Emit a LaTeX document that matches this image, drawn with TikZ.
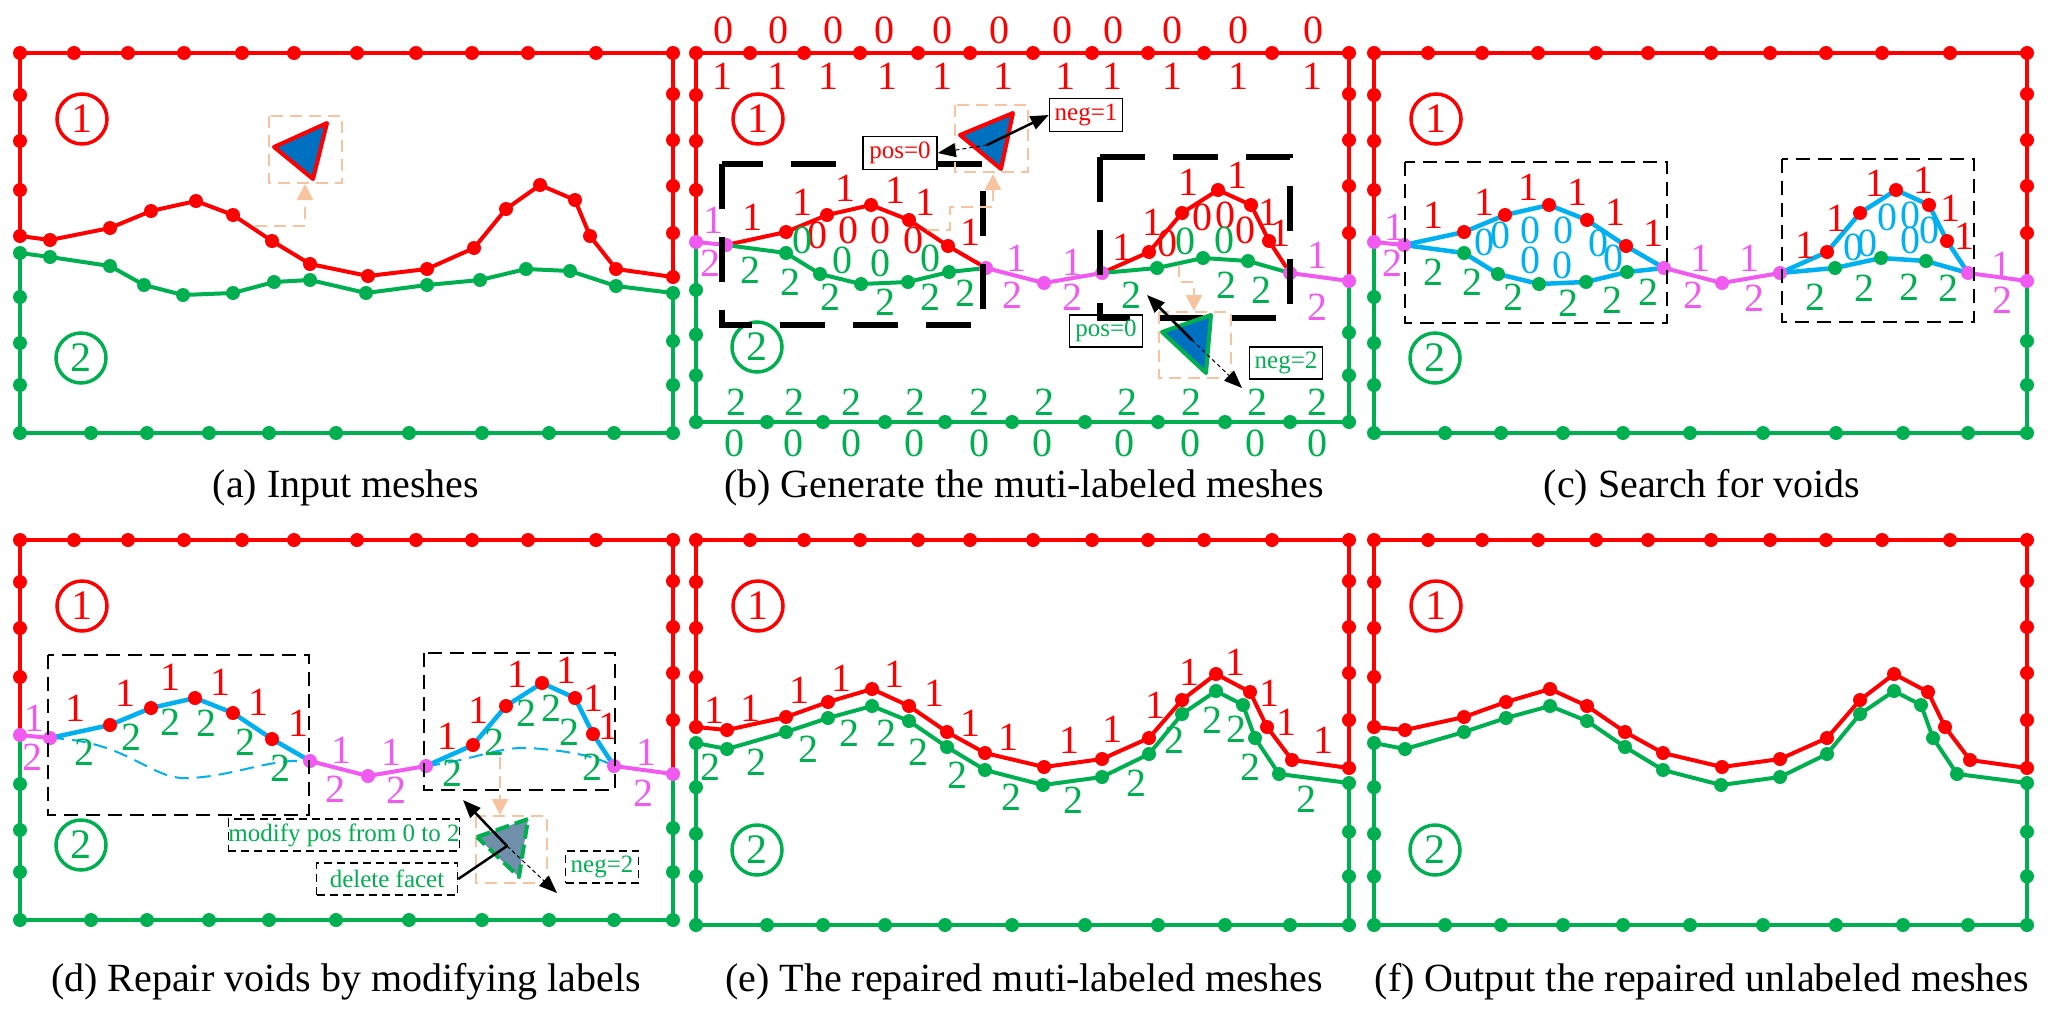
\documentclass[tikz,border=0pt]{standalone}
\usepackage{fontspec}
\setmainfont{Liberation Serif}
\usetikzlibrary{arrows.meta}
\definecolor{mred}{RGB}{255,0,0}
\definecolor{mgreen}{RGB}{0,176,80}
\definecolor{mmag}{RGB}{240,90,240}
\definecolor{mcyan}{RGB}{0,176,240}
\definecolor{morange}{RGB}{248,196,160}
\definecolor{tblue}{RGB}{0,112,192}
\definecolor{tgrey}{RGB}{111,143,170}
\tikzset{
 rl/.style={draw=mred,line width=4pt,line join=round},
 gl/.style={draw=mgreen,line width=4pt,line join=round},
 ml/.style={draw=mmag,line width=4pt,line join=round},
 cl/.style={draw=mcyan,line width=4.5pt,line join=round},
 lab/.style={inner sep=0pt,font=\rmfamily\fontsize{40}{40}\selectfont},
 capt/.style={inner sep=0pt,font=\rmfamily\fontsize{40}{44}\selectfont},
 circnum/.style={draw,circle,line width=3.5pt,minimum size=50pt,inner sep=0pt,font=\rmfamily\fontsize{42}{42}\selectfont},
 tbox/.style={draw,line width=1.5pt,inner sep=0pt,font=\rmfamily\fontsize{25}{25}\selectfont},
 dbox/.style={draw,dashed,dash pattern=on 8pt off 5pt,line width=1.5pt,inner sep=0pt,font=\rmfamily\fontsize{25}{25}\selectfont},
 obox/.style={draw=morange,line width=2.5pt,dash pattern=on 12pt off 7pt},
 otip/.style={draw=morange,line width=2.5pt,dash pattern=on 12pt off 7pt,-{Triangle[width=16pt,length=16pt,fill=morange]}},
 bigbox/.style={draw=black,line width=6pt,dash pattern=on 45pt off 28pt},
 thinbox/.style={draw=black,line width=2.5pt,dash pattern=on 14pt off 8pt},
 solarr/.style={draw=black,line width=2.5pt,-{Triangle[width=14pt,length=18pt]}},
 dasharr/.style={draw=black,line width=1pt,dash pattern=on 4pt off 3pt,-{Triangle[width=14pt,length=18pt]}},
}
\newcommand\dr{7}
\newcommand\labs[3]{\foreach \p in {#3} \node[lab,text=#1] at \p {#2};}
\newcommand\dotsat[2]{\foreach \p in {#2} \fill[#1] \p circle (\dr);}
% frame: #1 height, #2 left red end, #3 left green start, #4 right red end, #5 right green start
\newcommand\frameP[5]{%
 \draw[rl] (0,#2)--(0,0)--(653,0)--(653,#4);
 \draw[gl] (0,#3)--(0,#1)--(653,#1)--(653,#5);
 \foreach \x in {0,54,108,164,222,274,337,396,452,508,576,653} \fill[mred] (\x,0) circle (\dr);
 \foreach \y in {42,88,137} \fill[mred] (0,\y) circle (\dr);
 \foreach \y in {41,87,133,180} \fill[mred] (653,\y) circle (\dr);
 \foreach \y in {244,290,332} \fill[mgreen] (0,{\y/380*#1}) circle (\dr);
 \foreach \y in {288,332} \fill[mgreen] (653,{\y/380*#1}) circle (\dr);
 \foreach \x in {0,71,127,189,249,316,389,462,529,594,653} \fill[mgreen] (\x,#1) circle (\dr);
 \node[circnum,draw=mred,text=mred] at (62,66) {1};
 \node[circnum,draw=mgreen,text=mgreen] at (61,{#1-75}) {2};
}
\newcommand\magBCD{%
 \draw[ml] (0,189)--(30,192); \draw[ml] (290,215)--(348,230)--(406,220); \draw[ml] (594,220)--(653,228);}
\newcommand\redBCD[1]{%
 \draw[#1] (30,192)--(90,179)--(131,162)--(175,152)--(213,167)--(252,193)--(290,215);
 \draw[#1] (406,220)--(453,199)--(486,160)--(522,137)--(555,152)--(573,188)--(594,220);}
\newcommand\greenBCD[1]{%
 \draw[#1] (30,192)--(90,200)--(124,221)--(165,231)--(212,229)--(253,219)--(290,215);
 \draw[#1] (406,220)--(461,215)--(507,205)--(552,208)--(594,220);}
\newcommand\reddotsBCD{\dotsat{mred}{(90,179),(131,162),(175,152),(213,167),(252,193),(453,199),(486,160),(522,137),(555,152),(573,188)}}
\newcommand\greendotsBCD{\dotsat{mgreen}{(90,200),(124,221),(165,231),(212,229),(253,219),(461,215),(507,205),(552,208)}}
\newcommand\magdotsBCD{\dotsat{mmag}{(0,189),(30,192),(290,215),(348,230),(406,220),(594,220),(653,228)}}
\newcommand\curvesE{%
 \draw[rl] (0,187)--(31,190)--(90,177)--(132,162)--(176,149)--(213,166)--(251,192)--(289,213)--(348,227)--(406,219)--(453,198)--(486,160)--(520,134)--(554,152)--(571,187)--(596,220)--(653,228);
 \draw[gl] (0,203)--(31,209)--(90,192)--(132,178)--(176,166)--(213,181)--(251,207)--(289,230)--(347,245)--(406,237)--(453,214)--(486,174)--(520,151)--(547,165)--(559,198)--(583,234)--(653,243);
 \dotsat{mred}{(0,187),(31,190),(90,177),(132,162),(176,149),(213,166),(251,192),(289,213),(348,227),(406,219),(453,198),(486,160),(520,134),(554,152),(571,187),(596,220),(653,228)}
 \dotsat{mgreen}{(0,203),(31,209),(90,192),(132,178),(176,166),(213,181),(251,207),(289,230),(347,245),(406,237),(453,214),(486,174),(520,151),(547,165),(559,198),(583,234),(653,243)}
}
\begin{document}
\begin{tikzpicture}[x=1pt,y=-1pt]
\useasboundingbox (0,0) rectangle (2055,1020);
% ================= (a)
\begin{scope}[shift={(20,53)}]
\frameP{380}{183}{200}{224}{240}
\draw[rl] (0,183)--(30,187)--(90,175)--(131,158)--(176,148)--(213,162)--(252,188)--(290,211)--(348,223)--(407,216)--(454,195)--(486,156)--(520,132)--(555,147)--(570,183)--(596,216)--(653,224);
\draw[gl] (0,200)--(30,204)--(90,213)--(124,232)--(163,242)--(213,240)--(254,229)--(290,227)--(346,240)--(407,232)--(460,227)--(506,216)--(550,218)--(596,233)--(653,240);
\dotsat{mred}{(0,183),(30,187),(90,175),(131,158),(176,148),(213,162),(252,188),(290,211),(348,223),(407,216),(454,195),(486,156),(520,132),(555,147),(570,183),(596,216),(653,224)}
\dotsat{mgreen}{(0,200),(30,204),(90,213),(124,232),(163,242),(213,240),(254,229),(290,227),(346,240),(407,232),(460,227),(506,216),(550,218),(596,233),(653,240)}
\draw[obox] (249,63) rectangle (322,130);
\draw[otip] (235,173)--(285,173)--(285,131);
\filldraw[fill=tblue,draw=mred,line width=4pt,line join=round] (254,94)--(307,70)--(293,126)--cycle;
\end{scope}
\node[capt] (capa) at (346,488) {(a) Input meshes};
% ================= (b)
\begin{scope}[shift={(696,53)}]
\frameP{369}{189}{189}{228}{228}
\magBCD \redBCD{rl} \greenBCD{gl}
\reddotsBCD \greendotsBCD \magdotsBCD
\labs{mred}{0}{(27,-23),(82,-23),(137,-23),(188,-23),(246,-23),(303,-23),(366,-23),(417,-23),(476,-23),(542,-23),(617,-23)}
\labs{mred}{1}{(26,23),(81,23),(132,23),(191,23),(246,23),(307,23),(369,23),(416,23),(476,23),(542,23),(616,23)}
\labs{mgreen}{2}{(40,349),(98,349),(155,349),(219,349),(283,349),(348,349),(431,349),(495,349),(561,349),(621,349)}
\labs{mgreen}{0}{(38,390),(97,390),(155,390),(218,390),(283,390),(346,390),(428,390),(494,390),(559,390),(621,390)}
\labs{mred}{1}{(56,164),(106,149),(149,135),(199,137),(229,149),(274,179),(426,194),(456,169),(492,129),(541,122),(572,159),(584,180)}
\labs{mred}{0}{(121,182),(152,177),(184,177),(217,187),(471,190),(506,164),(529,162),(549,177)}
\labs{mgreen}{0}{(106,187),(146,207),(184,210),(234,205),(489,188),(528,187)}
\labs{mgreen}{2}{(54,217),(94,229),(134,244),(189,249),(234,244),(269,240),(435,242),(530,232),(565,237)}
\labs{mmag}{1}{(17,167),(320,205),(376,209),(621,202)}
\labs{mmag}{2}{(14,210),(316,242),(376,244),(621,254)}
\draw[bigbox] (26,111) rectangle (287,272);
\draw[bigbox] (404,104) rectangle (594,265);
% upper triangle
\draw[obox] (259,52) rectangle (332,119);
\draw[otip] (231,177)--(254,177)--(254,154)--(297,154)--(297,121);
\filldraw[fill=tblue,draw=mred,line width=4pt,line join=round] (264,82)--(317,60)--(305,116)--cycle;
\node[tbox,text=mred,fill=white,minimum width=74pt,minimum height=33pt] (bpos) at (204,100) {pos=0};
\node[tbox,text=mred,minimum width=73pt,minimum height=33pt] (bneg) at (390,62) {neg=1};
\coordinate (bt1) at (291,92);
\draw[solarr] (bt1)--(bneg.west);
\draw[dasharr] (bt1)--(bpos.east);
% lower triangle
\draw[obox] (463,259) rectangle (535,325);
\draw[otip] (483,212)--(483,229)--(498,229)--(498,258);
\filldraw[fill=tblue,draw=mgreen,line width=4pt,line join=round] (466,279)--(515,262)--(510,320)--cycle;
\node[tbox,text=mgreen,minimum width=73pt,minimum height=32pt] (bpos2) at (410,278) {pos=0};
\node[tbox,text=mgreen,minimum width=73pt,minimum height=32pt] (bneg2) at (590,310) {neg=2};
\coordinate (bt2) at (496,287);
\coordinate (bt2a) at (451,242);
\coordinate (bt2b) at (546,335);
\draw[solarr] (bt2)--(bt2a);
\draw[dasharr] (bt2)--(bt2b);
\end{scope}
\node[capt] (capb) at (1024,488) {(b) Generate the muti-labeled meshes};
% ================= (c)
\begin{scope}[shift={(1374,53)}]
\frameP{380}{189}{189}{228}{228}
\magBCD \redBCD{cl} \greenBCD{cl}
\reddotsBCD \greendotsBCD \magdotsBCD
\labs{mred}{1}{(59,162),(110,149),(154,134),(203,139),(241,159),(279,180),(431,192),(462,165),(501,130),(549,127),(576,155),(590,183)}
\labs{mcyan}{0}{(110,189),(126,182),(156,177),(189,177),(224,190),(156,207),(188,212),(239,205),(479,194),(493,190),(513,164),(536,162),(555,177),(536,187)}
\labs{mgreen}{2}{(59,219),(98,229),(139,244),(194,250),(238,247),(274,239),(441,244),(490,235),(535,234),(574,235)}
\labs{mmag}{1}{(20,174),(326,205),(375,205),(627,212)}
\labs{mmag}{2}{(18,210),(319,242),(380,245),(628,247)}
\draw[thinbox] (31,109) rectangle (293,270);
\draw[thinbox] (408,106) rectangle (600,269);
\end{scope}
\node[capt] (capc) at (1702,488) {(c) Search for voids};
% ================= (d)
\begin{scope}[shift={(20,540)}]
\frameP{380}{195}{195}{234}{234}
\begin{scope}[shift={(0,6)}]
\magBCD
\draw[mcyan,line width=2pt,dash pattern=on 14pt off 8pt] (30,192) .. controls (110,195) and (130,235) .. (170,232) .. controls (215,230) and (250,212) .. (290,215);
\draw[mcyan,line width=2pt,dash pattern=on 14pt off 8pt] (406,220) .. controls (450,215) and (480,200) .. (510,202) .. controls (550,205) and (575,210) .. (594,220);
\redBCD{cl}
\reddotsBCD \magdotsBCD
\end{scope}
\labs{mred}{1}{(55,168),(105,153),(150,137),(200,142),(238,162),(278,183),(427,196),(458,170),(497,134),(546,130),(573,158),(588,186)}
\labs{mgreen}{2}{(64,212),(111,197),(150,182),(186,183),(225,202),(260,228),(432,233),(474,202),(506,173),(531,168),(549,192),(572,227)}
\labs{mmag}{1}{(14,178),(321,210),(371,212),(626,212)}
\labs{mmag}{2}{(13,217),(315,249),(376,250),(623,253)}
\draw[thinbox] (28,115) rectangle (289,275);
\draw[thinbox] (404,113) rectangle (595,250);
\draw[obox] (456,276) rectangle (527,343);
\draw[otip] (480,217)--(480,275);
\filldraw[fill=tgrey,draw=mgreen,line width=4pt,dash pattern=on 14pt off 6pt,line join=round] (457,297)--(508,279)--(499,337)--cycle;
\node[dbox,text=mgreen,fill=white,minimum width=227pt,minimum height=32pt] (dmod) at (324,295) {modify pos from 0 to 2};
\node[dbox,text=mgreen,minimum width=141pt,minimum height=32pt] (ddel) at (367,339) {delete facet};
\node[dbox,text=mgreen,minimum width=73pt,minimum height=32pt] (dneg) at (582,327) {neg=2};
\coordinate (dt) at (487,306);
\coordinate (dta) at (443,260);
\coordinate (dtb) at (537,353);
\draw[solarr] (dt)--(dta);
\draw[black,line width=2.5pt] (dt)--(ddel.east);
\draw[dasharr] (dt)--(dtb);
\end{scope}
\node[capt] (capd) at (346,982) {(d) Repair voids by modifying labels};
% ================= (e)
\begin{scope}[shift={(696,540)}]
\frameP{385}{187}{203}{228}{243}
\curvesE
\labs{mred}{1}{(18,170),(54,168),(103,150),(145,138),(198,134),(238,153),(274,183),(312,197),(373,200),(416,189),(459,165),(493,132),(539,122),(573,153),(590,182),(627,200)}
\labs{mgreen}{2}{(14,227),(60,222),(112,209),(153,193),(190,193),(222,212),(261,235),(315,257),(377,260),(440,243),(478,200),(516,180),(540,189),(554,227),(610,259)}
\end{scope}
\node[capt] (cape) at (1024,982) {(e) The repaired muti-labeled meshes};
% ================= (f)
\begin{scope}[shift={(1374,540)}]
\frameP{385}{187}{203}{228}{243}
\curvesE
\end{scope}
\node[capt] (capf) at (1702,982) {(f) Output the repaired unlabeled meshes};
\end{tikzpicture}
\end{document}
